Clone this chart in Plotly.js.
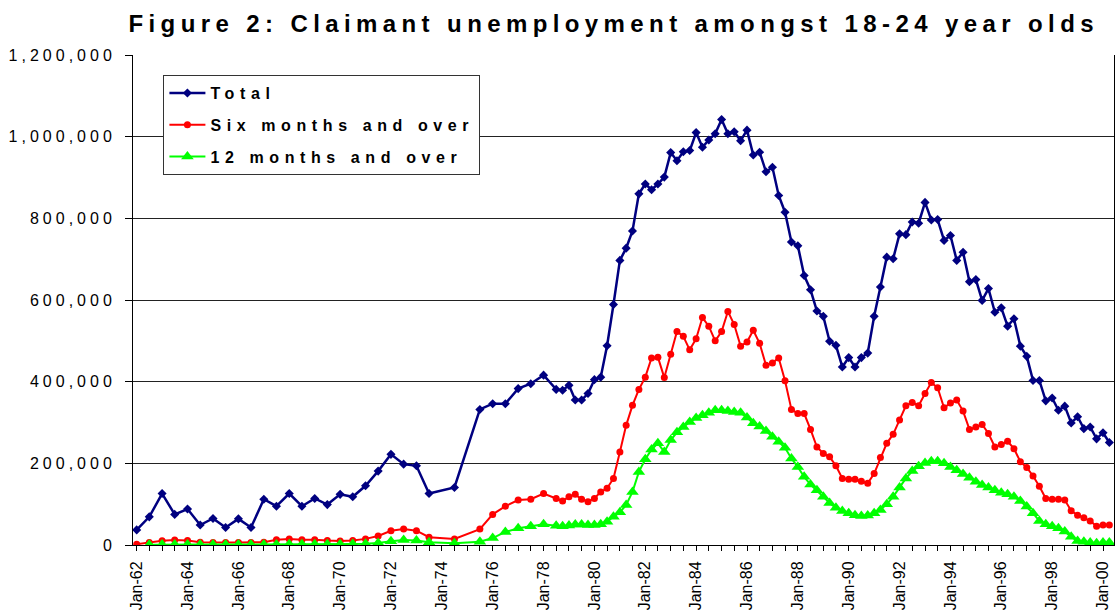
<!DOCTYPE html>
<html>
<head>
<meta charset="utf-8">
<script src="https://cdn.plot.ly/plotly-3.0.1.min.js"></script>
<style>
  html, body { margin: 0; padding: 0; background: #fff; }
  #chart { width: 1116px; height: 611px; }
  .gtitle { letter-spacing: 5.4px; }
  .legendtext { letter-spacing: 5.6px; }
  g.ytick text { letter-spacing: 4px; }
</style>
</head>
<body>
<div id="chart"></div>
<script>
// Period of each observation (semi-annual to mid-1978, quarterly afterwards)
const periods = [
  '1962-01','1962-07','1963-01','1963-07','1964-01','1964-07','1965-01','1965-07',
  '1966-01','1966-07','1967-01','1967-07','1968-01','1968-07','1969-01','1969-07',
  '1970-01','1970-07','1971-01','1971-07','1972-01','1972-07','1973-01','1973-07',
  '1974-07','1975-07','1976-01','1976-07','1977-01','1977-07','1978-01','1978-07',
  '1978-10',
  '1979-01','1979-04','1979-07','1979-10','1980-01','1980-04','1980-07','1980-10',
  '1981-01','1981-04','1981-07','1981-10','1982-01','1982-04','1982-07','1982-10',
  '1983-01','1983-04','1983-07','1983-10','1984-01','1984-04','1984-07','1984-10',
  '1985-01','1985-04','1985-07','1985-10','1986-01','1986-04','1986-07','1986-10',
  '1987-01','1987-04','1987-07','1987-10','1988-01','1988-04','1988-07','1988-10',
  '1989-01','1989-04','1989-07','1989-10','1990-01','1990-04','1990-07','1990-10',
  '1991-01','1991-04','1991-07','1991-10','1992-01','1992-04','1992-07','1992-10',
  '1993-01','1993-04','1993-07','1993-10','1994-01','1994-04','1994-07','1994-10',
  '1995-01','1995-04','1995-07','1995-10','1996-01','1996-04','1996-07','1996-10',
  '1997-01','1997-04','1997-07','1997-10','1998-01','1998-04','1998-07','1998-10',
  '1999-01','1999-04','1999-07','1999-10','2000-01','2000-04'
];

// Values in thousands of claimants
const totalK = [
  37, 69, 126, 75, 88, 49, 65, 43, 64, 43, 112, 95, 126, 95, 114, 99, 124, 118, 145, 181, 222, 198, 194, 126,
  141, 332, 346, 346, 383, 395, 416, 381,
  379,
  391, 355, 355, 371, 405, 411, 488, 589,
  697, 727, 769, 860, 884, 870, 884, 901,
  961, 941, 963, 966, 1010, 974, 992, 1007,
  1042, 1007, 1012, 990, 1016, 955, 962, 914,
  925, 856, 815, 742, 733, 660, 625, 573,
  560, 499, 489, 436, 459, 436, 459, 470,
  560, 632, 705, 701, 762, 760, 791, 788,
  839, 796, 797, 746, 758, 697, 717, 645,
  650, 599, 628, 570, 581, 536, 554, 487,
  462, 403, 403, 353, 360, 330, 340, 299,
  314, 285, 289, 260, 275, 251
];

const sixMonthsK = [
  2, 6, 10.6, 12, 11, 7, 6, 6, 6, 6, 7, 13, 15, 13, 13, 11, 10, 11, 15, 22, 35, 39, 35, 19,
  15, 39, 75, 95, 110, 112, 126, 114,
  108,
  118, 124, 112, 106, 114, 130, 139, 163,
  228, 293, 342, 381, 411, 458, 460, 410,
  467, 523, 511, 478, 505, 557, 536, 500,
  523, 572, 540, 487, 497, 526, 494, 440,
  446, 458, 402, 332, 322, 322, 283, 240,
  224, 216, 194, 163, 161, 161, 156, 151,
  175, 214, 249, 271, 306, 341, 349, 341,
  371, 398, 385, 336, 348, 355, 328, 283,
  289, 295, 273, 240, 246, 254, 236, 204,
  190, 169, 144, 114, 112, 112, 110, 84,
  73, 67, 59, 46, 49, 49
];

const twelveMonthsK = [
  null, 0.5, 1, 1.5, 1.5, 1, 1, 1, 1, 1, 1, 1.5, 2, 2, 2, 2, 2, 2.5, 3, 5, 9, 12, 11, 7,
  4, 8, 17, 32, 41, 46, 51, 47,
  46,
  48, 50, 50, 49, 49, 51, 57, 69,
  80, 98, 130, 179, 210, 234, 249, 228,
  257, 276, 289, 301, 311, 318, 324, 330,
  330, 328, 326, 324, 312, 298, 290, 279,
  265, 253, 238, 212, 191, 167, 148, 134,
  118, 103, 91, 83, 78, 73, 71, 72,
  78, 86, 100, 118, 141, 163, 181, 193,
  201, 205, 205, 200, 191, 183, 174, 165,
  155, 147, 141, 134, 128, 124, 118, 108,
  94, 78, 59, 51, 46, 41, 33, 20,
  10, 8, 6, 4, 6, 6
];

const seriesNames = ['Total', 'Six months and over', '12 months and over'];
const chartTitle = 'Figure 2: Claimant unemployment amongst 18-24 year olds';

const toCount = arr => arr.map(v => (v === null ? null : v * 1000));
const FONT = 'Liberation Sans, Arial, sans-serif';

const traces = [
  {
    x: periods, y: toCount(totalK), name: seriesNames[0], legendgroup: 'a',
    type: 'scatter', mode: 'lines+markers',
    line: { color: '#000080', width: 2.5 },
    marker: { symbol: 'diamond', size: 7, color: '#000080' }
  },
  {
    x: periods, y: toCount(sixMonthsK), name: seriesNames[1], legendgroup: 'b',
    type: 'scatter', mode: 'lines+markers',
    line: { color: '#FF0000', width: 2 },
    marker: { symbol: 'circle', size: 7, color: '#FF0000' }
  },
  {
    x: periods, y: toCount(twelveMonthsK), name: seriesNames[2], legendgroup: 'c',
    type: 'scatter', mode: 'lines+markers', connectgaps: false,
    line: { color: '#00FF00', width: 2 },
    marker: { symbol: 'triangle-up', size: 11, color: '#00FF00' }
  }
];

const layout = {
  width: 1116, height: 611,
  paper_bgcolor: '#fff', plot_bgcolor: '#fff',
  margin: { l: 133, r: 2, t: 55, b: 66 },
  font: { family: FONT, color: '#000', size: 16 },
  title: {
    text: chartTitle,
    font: { family: FONT, size: 24, weight: 700, color: '#000' },
    xref: 'paper', x: 0.49, xanchor: 'center',
    yref: 'container', y: 0.962, yanchor: 'middle'
  },
  showlegend: true,
  legend: {
    x: 0.031, y: 0.959, xanchor: 'left', yanchor: 'top',
    bgcolor: '#fff', bordercolor: '#333', borderwidth: 1,
    font: { family: FONT, size: 16, weight: 700, color: '#000' },
    tracegroupgap: 8, itemwidth: 36, traceorder: 'grouped'
  },
  xaxis: {
    type: 'date',
    range: ['1961-11-09', '2000-06-07'],
    tick0: '1962-01-01', dtick: 'M24', tickformat: '%b-%y',
    tickangle: -90,
    ticks: 'outside', ticklen: 5, tickcolor: '#000', tickwidth: 1,
    minor: { tick0: '1962-01-01', dtick: 'M6', ticks: 'outside', ticklen: 5, tickcolor: '#000', showgrid: false },
    showline: true, linecolor: '#000', linewidth: 1,
    showgrid: false, zeroline: false,
    tickfont: { family: FONT, size: 16, color: '#000' },
    ticklabelstandoff: 4
  },
  yaxis: {
    range: [0, 1200000], dtick: 200000, tick0: 0,
    tickformat: ',d',
    ticks: 'outside', ticklen: 7, tickcolor: '#000', tickwidth: 1,
    showline: true, linecolor: '#000', linewidth: 1, mirror: true,
    showgrid: true, gridcolor: '#222', gridwidth: 1,
    zeroline: false,
    tickfont: { family: FONT, size: 16, color: '#000' },
    ticklabelstandoff: 6
  },
  hovermode: false
};

Plotly.newPlot('chart', traces, layout, { displayModeBar: false, staticPlot: true });
</script>
</body>
</html>
